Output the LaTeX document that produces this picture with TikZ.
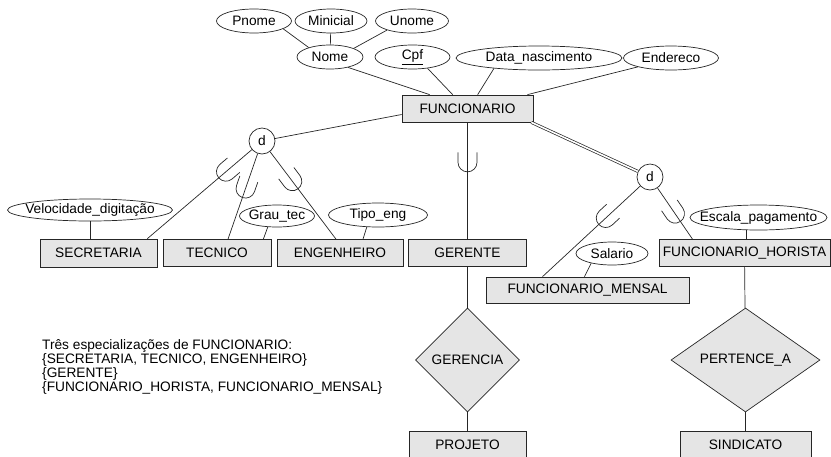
\documentclass[tikz,border=0pt]{standalone}
\usepackage{fontspec}
\setmainfont{Liberation Sans}
\usetikzlibrary{shapes.geometric,decorations.markings}

\tikzset{
    entity/.style={rectangle, draw=black!85, fill=gray!20, line width=0.7pt, minimum height=27pt, inner sep=0pt},
    attrib/.style={ellipse, draw=black!85, fill=white, line width=0.7pt, minimum height=24pt, inner xsep=-12pt, inner ysep=0pt},
    relation/.style={diamond, draw=black!85, fill=gray!20, line width=0.7pt, minimum width=104pt, minimum height=104pt, inner sep=0pt},
    disjoint/.style={circle, draw=black!85, fill=white, line width=0.7pt, minimum size=26pt, inner sep=0pt},
    link/.style={draw=black!85, line width=0.7pt},
    cup at/.style={postaction={decorate}, decoration={markings, mark=at position #1 with {\draw[link] (-10pt,9.5pt) -- (0pt,9.5pt) arc (90:-90:9.5pt) -- (-10pt,-9.5pt);}}}
}

\begin{document}
\begin{tikzpicture}[x=1pt, y=-1pt, every node/.style={font=\fontsize{13.7}{14}\selectfont}]
    %--------------------%
    % Parameters
    %--------------------%
    \def\ysub{253}
    \def\yrel{360}
    \def\ybot{444.5}
    \useasboundingbox (0,0) rectangle (831,456);

    %--------------------%
    % Attributes of FUNCIONARIO
    %--------------------%
    \node[attrib, minimum width=75pt] (pnome) at (254,21) {Pnome};
    \node[attrib, minimum width=72pt] (minicial) at (331,21) {Minicial};
    \node[attrib, minimum width=73pt] (unome) at (412,21) {Unome};
    \node[attrib, minimum width=66pt] (nome) at (330,57) {Nome};
    \node[attrib, minimum width=75pt] (cpf) at (412.5,57) {\underline{Cpf}};
    \node[attrib, minimum width=166pt] (datanasc) at (539,58) {Data\_nascimento};
    \node[attrib, minimum width=95pt] (endereco) at (671,58) {Endereco};

    %--------------------%
    % Entities
    %--------------------%
    \node[entity, minimum width=131pt] (funcionario) at (467.5,108.5) {FUNCIONARIO};
    \node[entity, minimum width=117pt, minimum height=28pt] (secretaria) at (98.5,\ysub) {SECRETARIA};
    \node[entity, minimum width=108pt] (tecnico) at (217,\ysub) {TECNICO};
    \node[entity, minimum width=126pt] (engenheiro) at (340,\ysub) {ENGENHEIRO};
    \node[entity, minimum width=118pt] (gerente) at (467.5,\ysub) {GERENTE};
    \node[entity, minimum width=171pt] (horista) at (744.5,\ysub) {FUNCIONARIO\_HORISTA};
    \node[entity, minimum width=203pt, minimum height=26pt] (mensal) at (587.5,290) {FUNCIONARIO\_MENSAL};
    \node[entity, minimum width=117pt] (projeto) at (467.5,\ybot) {PROJETO};
    \node[entity, minimum width=131pt] (sindicato) at (745.5,\ybot) {SINDICATO};

    %--------------------%
    % Relationships
    %--------------------%
    \node[relation] (gerencia) at (467.5,\yrel) {GERENCIA};
    \node[relation, minimum width=149pt] (pertence) at (745.5,\yrel) {PERTENCE\_A};

    %--------------------%
    % Disjointness circles
    %--------------------%
    \node[disjoint] (d1) at (262,141) {d};
    \node[disjoint] (d2) at (650,177) {d};

    %--------------------%
    % Local attributes
    %--------------------%
    \node[attrib, minimum width=165pt, minimum height=22pt] (velocidade) at (90,210) {Velocidade\_digitação};
    \node[attrib, minimum width=75pt, minimum height=22pt] (grautec) at (277,216) {Grau\_tec};
    \node[attrib, minimum width=99pt] (tipoeng) at (378,215) {Tipo\_eng};
    \node[attrib, minimum width=72pt, minimum height=23pt] (salario) at (612,253.5) {Salario};
    \node[attrib, minimum width=137pt, minimum height=25pt] (escala) at (758.5,217.5) {Escala\_pagamento};

    %--------------------%
    % Note
    %--------------------%
    \node[anchor=north west, align=left, inner sep=0pt] (nota) at (42,339) {Três especializações de FUNCIONARIO:\\
        \{SECRETARIA, TECNICO, ENGENHEIRO\}\\
        \{GERENTE\}\\
        \{FUNCIONARIO\_HORISTA, FUNCIONARIO\_MENSAL\}};

    %--------------------%
    % Connections
    %--------------------%
    % Composite attribute
    \draw[link] (pnome.-15) -- (nome.156);
    \draw[link] (minicial) -- (nome);
    \draw[link] (unome.-160) -- (nome.20);

    % Attributes to FUNCIONARIO
    \draw[link] (nome.-30) -- ([xshift=28pt]funcionario.north west);
    \draw[link] (cpf.-37) -- ([xshift=51pt]funcionario.north west);
    \draw[link] (datanasc.-167) -- ([xshift=76pt]funcionario.north west);
    \draw[link] (endereco.-165) -- ([xshift=-6pt]funcionario.north east);

    % First specialisation
    \draw[link] ([yshift=-6pt]funcionario.west) -- (d1);
    \draw[link, cup at=34pt] (d1) -- ([xshift=-10pt]secretaria.north east);
    \draw[link, cup at=37pt] (d1) -- ([xshift=11pt]tecnico.north);
    \draw[link, cup at=37pt] (d1) -- ([xshift=-4pt]engenheiro.north);

    % Second specialisation
    \draw[link, cup at=40pt] (funcionario) -- (gerente);
    \draw[link] (gerente) -- (gerencia);
    \draw[link] (gerencia) -- (projeto);

    % Third specialisation
    \draw[link, double, double distance=1.6pt] ([xshift=-2pt]funcionario.south east) -- (d2);
    \draw[link, cup at=47pt] (d2) -- ([xshift=-45pt]mensal.north);
    \draw[link, cup at=31pt] (d2) -- ([xshift=-52pt]horista.north);
    \draw[link] (horista) -- (pertence);
    \draw[link] (pertence) -- (sindicato);

    % Local attributes
    \draw[link] (velocidade.south) -- (velocidade.south |- secretaria.north);
    \draw[link] (grautec.-130) -- ([xshift=-8pt]tecnico.north east);
    \draw[link] (tipoeng.-133) -- ([xshift=23pt]engenheiro.north);
    \draw[link] (salario.-155) -- ([xshift=-3pt]mensal.north);
    \draw[link] (escala.-133) -- (escala.-133 |- horista.north);
\end{tikzpicture}
\end{document}
